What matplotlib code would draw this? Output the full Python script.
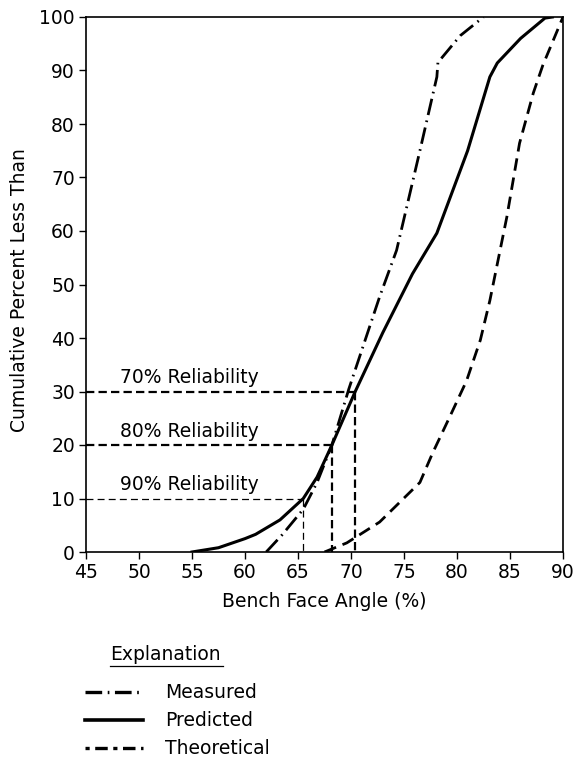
import matplotlib
matplotlib.use('Agg')
import matplotlib.pyplot as plt
from matplotlib.lines import Line2D

# data
measured_x = [62.0, 63.5, 65.5, 66.8, 68.2, 69.8, 72.7, 74.3, 76.5, 78.1, 78.2, 80.3, 82.5]
measured_y = [0, 3.2, 8.0, 13.0, 20.0, 30.5, 47.7, 56.4, 75.0, 88.8, 91.5, 96.5, 100]

predicted_x = [55.0, 57.5, 60.0, 61.0, 63.3, 65.5, 66.8, 68.2, 70.4, 73.0, 75.8, 78.1, 81.0, 83.1, 83.8, 86.0, 88.3, 89.0]
predicted_y = [0, 0.8, 2.5, 3.3, 6.0, 10.0, 14.0, 20.0, 30.0, 41.0, 52.0, 59.6, 75.0, 88.8, 91.4, 96.0, 99.8, 100]

theoretical_x = [67.5, 69.6, 72.7, 74.6, 76.5, 77.7, 79.3, 80.9, 82.2, 83.1, 84.7, 85.9, 87.2, 88.1, 90.0]
theoretical_y = [0, 1.7, 5.6, 9.3, 13.0, 18.5, 25.2, 32.0, 39.6, 47.0, 62.6, 76.4, 85.8, 91.0, 100]

rel_labels = ['70% Reliability', '80% Reliability', '90% Reliability']
rel_pct = [30, 20, 10]
rel_angle = [70.4, 68.2, 65.5]

xticks = [45, 50, 55, 60, 65, 70, 75, 80, 85, 90]
yticks = [0, 10, 20, 30, 40, 50, 60, 70, 80, 90, 100]

plt.rcParams['lines.scale_dashes'] = False
plt.rcParams['font.family'] = 'DejaVu Sans'
fs = 13.5

fig = plt.figure(figsize=(5.82, 7.61), dpi=100)
ax = fig.add_axes([86/582, 1-552/761, 477/582, 535/761])

ms_dash = (0, (12, 4, 1.2, 4))
th_dash = (0, (9, 5))

ax.plot(measured_x, measured_y, color='black', lw=2.0, linestyle=ms_dash)
ax.plot(predicted_x, predicted_y, color='black', lw=2.2)
ax.plot(theoretical_x, theoretical_y, color='black', lw=2.0, linestyle=th_dash)

for lab, p, a in zip(rel_labels, rel_pct, rel_angle):
    if p == 10:
        lw, ls = 0.9, (0, (5, 3))
    else:
        lw, ls = 1.6, (0, (6, 3))
    ax.plot([45, a], [p, p], color='black', lw=lw, linestyle=ls)
    ax.plot([a, a], [p, 0], color='black', lw=lw, linestyle=ls)
    ax.text(48.2, p + 0.8, lab, fontsize=fs, ha='left', va='bottom')

ax.set_xlim(45, 90)
ax.set_ylim(0, 100)
ax.set_xticks(xticks)
ax.set_yticks(yticks)
ax.tick_params(direction='out', length=5, width=1, labelsize=fs, pad=3)
for s in ax.spines.values():
    s.set_linewidth(1.2)

ax.set_xlabel('Bench Face Angle (%)', fontsize=fs)
ax.xaxis.set_label_coords(0.5, -0.075)
ax.set_ylabel('Cumulative Percent Less Than', fontsize=fs)
ax.yaxis.set_label_coords(-0.12, 0.49)

# explanation block
W, H = 582, 761
fig.text(110/W, 1-654/H, 'Explanation', fontsize=fs, ha='left', va='center')
fig.add_artist(Line2D([110/W, 223/W], [1-666/H, 1-666/H], color='black', lw=0.9))
leg = [('Measured', ms_dash, 2.4, 692), ('Predicted', '-', 2.6, 720), ('Theoretical', (0, (3, 4, 9, 4)), 2.4, 748)]
for name, ls, lw, yy in leg:
    fig.add_artist(Line2D([85/W, 143/W], [1-yy/H, 1-yy/H], color='black', lw=lw, linestyle=ls))
    fig.text(165/W, 1-yy/H, name, fontsize=fs, ha='left', va='center')

fig.savefig('out.png', dpi=100)
